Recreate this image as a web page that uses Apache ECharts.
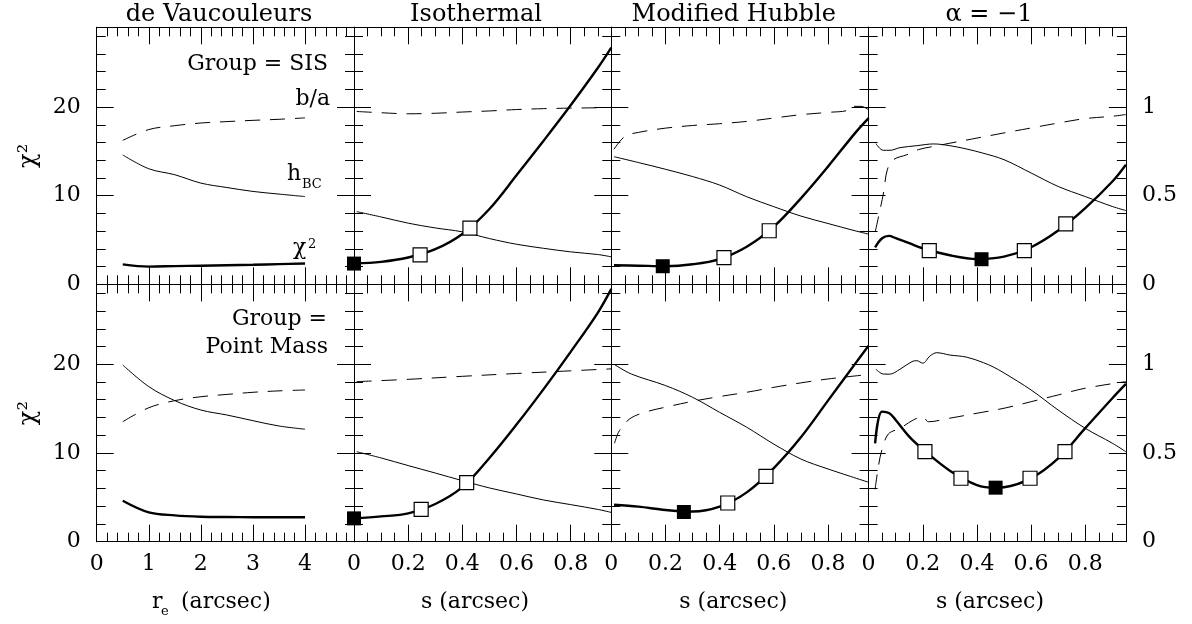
<!DOCTYPE html>
<html><head><meta charset="utf-8">
<script src="https://cdn.jsdelivr.net/npm/echarts@6/dist/echarts.min.js"></script>
<style>html,body{margin:0;padding:0;background:#fff}#c{width:1192px;height:624px}</style>
</head><body><div id="c"></div>
<script>
// ---------------- data ----------------
const columnTitles = ['de Vaucouleurs', 'Isothermal', 'Modified Hubble', 'α = −1'];

// de Vaucouleurs, x = r_e (arcsec)
const deV_r = [0.5, 1, 1.5, 2, 2.5, 3, 3.5, 4];
const deV_SIS_chi2 = [2.25, 2.0, 2.05, 2.1, 2.15, 2.2, 2.28, 2.35];
const deV_SIS_hbc  = [0.73, 0.652, 0.618, 0.571, 0.546, 0.524, 0.509, 0.495];
const deV_SIS_ba   = [0.812, 0.873, 0.895, 0.91, 0.918, 0.925, 0.931, 0.939];
const deV_PM_chi2  = [4.62, 3.31, 2.97, 2.82, 2.78, 2.76, 2.76, 2.76];
const deV_PM_hbc   = [0.996, 0.874, 0.795, 0.742, 0.714, 0.682, 0.652, 0.634];
const deV_PM_ba    = [0.676, 0.755, 0.795, 0.817, 0.83, 0.842, 0.85, 0.855];

// Isothermal, group = SIS
const iso_SIS_s_chi2 = [0, 0.1, 0.2, 0.3, 0.4, 0.5, 0.6, 0.7, 0.8, 0.9, 0.95];
const iso_SIS_chi2   = [2.34, 2.53, 3.02, 3.96, 5.68, 8.5, 12.3, 16.2, 20.2, 24.4, 26.7];
const iso_SIS_s      = [0.01, 0.1, 0.2, 0.3, 0.4, 0.5, 0.6, 0.7, 0.8, 0.9, 0.95];
const iso_SIS_hbc    = [0.41, 0.38, 0.345, 0.318, 0.296, 0.258, 0.226, 0.203, 0.183, 0.168, 0.155];
const iso_SIS_ba     = [0.975, 0.968, 0.962, 0.965, 0.972, 0.978, 0.986, 0.991, 0.994, 0.996, 0.998];
const iso_SIS_open_s = [0.244, 0.428], iso_SIS_open_chi2 = [3.32, 6.34];
const iso_SIS_best_s = [0], iso_SIS_best_chi2 = [2.34];

// Isothermal, group = point mass
const iso_PM_s_chi2 = [0, 0.1, 0.2, 0.3, 0.4, 0.5, 0.6, 0.7, 0.8, 0.9, 0.95];
const iso_PM_chi2   = [2.63, 2.85, 3.2, 4.25, 6.15, 9.44, 13.2, 17.2, 21.4, 25.8, 28.5];
const iso_PM_s_hbc  = [0.01, 0.1, 0.2, 0.3, 0.4, 0.5, 0.6, 0.7, 0.8, 0.9, 0.95];
const iso_PM_hbc    = [0.507, 0.472, 0.429, 0.387, 0.344, 0.303, 0.269, 0.235, 0.209, 0.182, 0.165];
const iso_PM_s_ba   = [0.01, 0.2, 0.4, 0.6, 0.8, 0.95];
const iso_PM_ba     = [0.902, 0.915, 0.932, 0.948, 0.963, 0.974];
const iso_PM_open_s = [0.248, 0.416], iso_PM_open_chi2 = [3.65, 6.65];
const iso_PM_best_s = [0], iso_PM_best_chi2 = [2.63];

// Modified Hubble, group = SIS
const mh_SIS_s_chi2 = [0.01, 0.1, 0.2, 0.3, 0.4, 0.5, 0.6, 0.7, 0.8, 0.9, 0.95];
const mh_SIS_chi2   = [2.15, 2.1, 2.04, 2.26, 2.85, 4.23, 6.5, 9.7, 13.28, 17.06, 18.75];
const mh_SIS_s_hbc  = [0.01, 0.1, 0.2, 0.3, 0.4, 0.5, 0.6, 0.7, 0.8, 0.9, 0.95];
const mh_SIS_hbc    = [0.72, 0.687, 0.649, 0.608, 0.56, 0.494, 0.438, 0.385, 0.343, 0.302, 0.283];
const mh_SIS_s_ba   = [0.01, 0.05, 0.1, 0.2, 0.3, 0.4, 0.5, 0.6, 0.7, 0.8, 0.873, 0.886, 0.922, 0.95];
const mh_SIS_ba     = [0.762, 0.834, 0.857, 0.881, 0.896, 0.906, 0.919, 0.938, 0.957, 0.97, 0.981, 1.004, 1.004, 0.985];
const mh_SIS_open_s = [0.416, 0.583], mh_SIS_open_chi2 = [3.02, 6.04];
const mh_SIS_best_s = [0.19], mh_SIS_best_chi2 = [2.04];

// Modified Hubble, group = point mass
const mh_PM_s_chi2 = [0.01, 0.1, 0.2, 0.3, 0.4, 0.5, 0.6, 0.7, 0.8, 0.9, 0.95];
const mh_PM_chi2   = [4.17, 3.95, 3.57, 3.4, 3.95, 5.56, 8.3, 11.77, 15.9, 20.04, 22.1];
const mh_PM_s_hbc  = [0.01, 0.074, 0.2, 0.3, 0.4, 0.5, 0.6, 0.7, 0.8, 0.95];
const mh_PM_hbc    = [1.0, 0.945, 0.88, 0.814, 0.729, 0.645, 0.55, 0.466, 0.41, 0.335];
const mh_PM_s_ba   = [0.012, 0.03, 0.068, 0.123, 0.2, 0.3, 0.4, 0.5, 0.6, 0.7, 0.8, 0.95];
const mh_PM_ba     = [0.555, 0.626, 0.692, 0.729, 0.758, 0.791, 0.818, 0.842, 0.87, 0.895, 0.917, 0.942];
const mh_PM_open_s = [0.43, 0.571], mh_PM_open_chi2 = [4.36, 7.37];
const mh_PM_best_s = [0.268], mh_PM_best_chi2 = [3.35];

// alpha = -1, group = SIS
const al_SIS_s_chi2 = [0.024, 0.05, 0.075, 0.1, 0.15, 0.2, 0.3, 0.4, 0.5, 0.6, 0.7, 0.8, 0.9, 0.95];
const al_SIS_chi2   = [4.18, 5.2, 5.46, 5.2, 4.64, 4.07, 3.28, 2.86, 3.12, 4.18, 6.06, 8.6, 11.6, 13.5];
const al_SIS_s_hbc  = [0.027, 0.054, 0.079, 0.116, 0.178, 0.24, 0.3, 0.36, 0.42, 0.5, 0.6, 0.7, 0.8, 0.9, 0.95];
const al_SIS_hbc    = [0.794, 0.756, 0.756, 0.771, 0.782, 0.792, 0.782, 0.764, 0.741, 0.703, 0.628, 0.552, 0.495, 0.439, 0.416];
const al_SIS_s_ba   = [0.025, 0.055, 0.069, 0.092, 0.141, 0.184, 0.24, 0.3, 0.4, 0.5, 0.6, 0.7, 0.8, 0.9, 0.95];
const al_SIS_ba     = [0.30, 0.515, 0.646, 0.703, 0.731, 0.76, 0.778, 0.796, 0.825, 0.854, 0.882, 0.91, 0.935, 0.948, 0.958];
const al_SIS_open_s = [0.224, 0.575, 0.728], al_SIS_open_chi2 = [3.8, 3.8, 6.82];
const al_SIS_best_s = [0.417], al_SIS_best_chi2 = [2.83];

// alpha = -1, group = point mass
const al_PM_s_chi2 = [0.024, 0.049, 0.077, 0.1, 0.15, 0.2, 0.3, 0.4, 0.469, 0.5, 0.6, 0.7, 0.8, 0.9, 0.95];
const al_PM_chi2   = [11.09, 14.66, 14.47, 13.72, 11.84, 10.42, 8.0, 6.39, 6.09, 6.13, 7.16, 9.4, 12.8, 16.17, 17.78];
const al_PM_s_hbc  = [0.027, 0.054, 0.077, 0.116, 0.16, 0.178, 0.2, 0.227, 0.252, 0.3, 0.362, 0.424, 0.46, 0.5, 0.6, 0.7, 0.8, 0.9, 0.95];
const al_PM_hbc    = [0.972, 0.945, 0.944, 0.972, 1.015, 1.02, 1.006, 1.047, 1.065, 1.052, 1.04, 1.009, 0.985, 0.951, 0.855, 0.742, 0.639, 0.555, 0.507];
const al_PM_s_ba   = [0.024, 0.036, 0.049, 0.073, 0.116, 0.165, 0.2, 0.221, 0.3, 0.4, 0.5, 0.6, 0.7, 0.8, 0.95];
const al_PM_ba     = [0.295, 0.423, 0.517, 0.607, 0.639, 0.686, 0.705, 0.676, 0.696, 0.724, 0.752, 0.789, 0.827, 0.865, 0.902];
const al_PM_open_s = [0.208, 0.341, 0.596, 0.725], al_PM_open_chi2 = [10.15, 7.15, 7.15, 10.15];
const al_PM_best_s = [0.469], al_PM_best_chi2 = [6.09];

// ---------------- panel table ----------------
const panels = [
  {row:0,col:0, chi2:[deV_r,deV_SIS_chi2], hbc:[deV_r,deV_SIS_hbc], ba:[deV_r,deV_SIS_ba]},
  {row:0,col:1, chi2:[iso_SIS_s_chi2,iso_SIS_chi2], hbc:[iso_SIS_s,iso_SIS_hbc], ba:[iso_SIS_s,iso_SIS_ba], open:[iso_SIS_open_s,iso_SIS_open_chi2], best:[iso_SIS_best_s,iso_SIS_best_chi2]},
  {row:0,col:2, chi2:[mh_SIS_s_chi2,mh_SIS_chi2], hbc:[mh_SIS_s_hbc,mh_SIS_hbc], ba:[mh_SIS_s_ba,mh_SIS_ba], open:[mh_SIS_open_s,mh_SIS_open_chi2], best:[mh_SIS_best_s,mh_SIS_best_chi2]},
  {row:0,col:3, chi2:[al_SIS_s_chi2,al_SIS_chi2], hbc:[al_SIS_s_hbc,al_SIS_hbc], ba:[al_SIS_s_ba,al_SIS_ba], open:[al_SIS_open_s,al_SIS_open_chi2], best:[al_SIS_best_s,al_SIS_best_chi2]},
  {row:1,col:0, chi2:[deV_r,deV_PM_chi2], hbc:[deV_r,deV_PM_hbc], ba:[deV_r,deV_PM_ba]},
  {row:1,col:1, chi2:[iso_PM_s_chi2,iso_PM_chi2], hbc:[iso_PM_s_hbc,iso_PM_hbc], ba:[iso_PM_s_ba,iso_PM_ba], open:[iso_PM_open_s,iso_PM_open_chi2], best:[iso_PM_best_s,iso_PM_best_chi2]},
  {row:1,col:2, chi2:[mh_PM_s_chi2,mh_PM_chi2], hbc:[mh_PM_s_hbc,mh_PM_hbc], ba:[mh_PM_s_ba,mh_PM_ba], open:[mh_PM_open_s,mh_PM_open_chi2], best:[mh_PM_best_s,mh_PM_best_chi2]},
  {row:1,col:3, chi2:[al_PM_s_chi2,al_PM_chi2], hbc:[al_PM_s_hbc,al_PM_hbc], ba:[al_PM_s_ba,al_PM_ba], open:[al_PM_open_s,al_PM_open_chi2], best:[al_PM_best_s,al_PM_best_chi2]}
];

// ---------------- layout / style ----------------
const FONT = '"DejaVu Serif", "Liberation Serif", serif';
const INK = '#000';
const G_LEFT = 96.7, G_W = 257.3;
const G_TOP = [27.3, 284.4], G_H = [257.0, 257.3];
const CHI_MAX = 29, R_MAX = 1.45;
const MAJ = 17, MIN = 9;
const SMOOTH = 0.35;

function fmt(step) {
  return v => { const k = v / step; return Math.abs(k - Math.round(k)) < 1e-6 ? String(+v.toFixed(2)) : ''; };
}
const zip = (xs, ys) => xs.map((x, i) => [x, ys[i]]);

const grids = [], xAxes = [], yAxes = [], series = [];
panels.forEach((p, g) => {
  const bottomRow = p.row === 1, firstCol = p.col === 0, lastCol = p.col === 3;
  grids.push({left: G_LEFT + p.col * G_W, top: G_TOP[p.row], width: G_W, height: G_H[p.row]});
  const xr = firstCol ? {max: 4.94, major: 1, minor: 0.2} : {max: 0.95, major: 0.2, minor: 0.05};
  const bx = {type: 'value', gridIndex: g, min: 0, max: xr.max, splitLine: {show: false},
    axisLine: {show: true, onZero: false, lineStyle: {color: INK, width: 1}}};
  const tick = len => ({show: true, inside: true, length: len, lineStyle: {color: INK, width: 1}});
  xAxes.push(Object.assign({}, bx, {position: 'bottom', interval: xr.major, axisTick: tick(MAJ),
    axisLabel: {show: bottomRow, margin: 12, color: INK, fontFamily: FONT, fontSize: 22, formatter: fmt(xr.major)}}));
  xAxes.push(Object.assign({}, bx, {position: 'bottom', interval: xr.minor, axisTick: tick(MIN), axisLabel: {show: false}}));
  xAxes.push(Object.assign({}, bx, {position: 'top', interval: xr.major, axisTick: tick(MAJ), axisLabel: {show: false}}));
  xAxes.push(Object.assign({}, bx, {position: 'top', interval: xr.minor, axisTick: tick(MIN), axisLabel: {show: false}}));

  const by = {type: 'value', gridIndex: g, min: 0, max: CHI_MAX, splitLine: {show: false},
    axisLine: {show: true, onZero: false, lineStyle: {color: INK, width: 1}}};
  const left = Object.assign({}, by, {position: 'left', interval: 10, axisTick: tick(MAJ),
    axisLabel: {show: firstCol, margin: 16, color: INK, fontFamily: FONT, fontSize: 22, formatter: fmt(10)}});
  if (firstCol) Object.assign(left, {name: 'χ²', nameLocation: 'middle', nameGap: 56, nameRotate: 90,
    nameTextStyle: {color: INK, fontFamily: FONT, fontSize: 24}});
  yAxes.push(left);
  yAxes.push(Object.assign({}, by, {position: 'left', interval: 2, axisTick: tick(MIN), axisLabel: {show: false}}));
  yAxes.push(Object.assign({}, by, {position: 'right', interval: 10, axisTick: tick(MAJ), axisLabel: {show: false}}));
  yAxes.push(Object.assign({}, by, {position: 'right', interval: 2, axisTick: tick(MIN), axisLabel: {show: false}}));
  yAxes.push({type: 'value', gridIndex: g, position: 'right', min: 0, max: R_MAX, interval: 0.5,
    splitLine: {show: false}, axisLine: {show: false, onZero: false}, axisTick: {show: false},
    axisLabel: {show: lastCol, margin: 16, color: INK, fontFamily: FONT, fontSize: 22, formatter: fmt(0.5)}});

  const xi = 4 * g, yc = 5 * g, yr = 5 * g + 4;
  series.push({type: 'line', xAxisIndex: xi, yAxisIndex: yr, data: zip(p.ba[0], p.ba[1]), showSymbol: false,
    smooth: SMOOTH, lineStyle: {color: INK, width: 1, type: [15, 10]}, z: 2});
  series.push({type: 'line', xAxisIndex: xi, yAxisIndex: yr, data: zip(p.hbc[0], p.hbc[1]), showSymbol: false,
    smooth: SMOOTH, lineStyle: {color: INK, width: 1}, z: 2});
  series.push({type: 'line', xAxisIndex: xi, yAxisIndex: yc, data: zip(p.chi2[0], p.chi2[1]), showSymbol: false,
    smooth: SMOOTH, lineStyle: {color: INK, width: 2.4}, z: 3});
  if (p.open) series.push({type: 'scatter', xAxisIndex: xi, yAxisIndex: yc, data: zip(p.open[0], p.open[1]),
    symbol: 'rect', symbolSize: 14, clip: false,
    itemStyle: {color: '#fff', borderColor: INK, borderWidth: 1.2, opacity: 1}, z: 5});
  if (p.best) series.push({type: 'scatter', xAxisIndex: xi, yAxisIndex: yc, data: zip(p.best[0], p.best[1]),
    symbol: 'rect', symbolSize: 14, clip: false, itemStyle: {color: INK, opacity: 1}, z: 6});
});

function txt(text, x, y, size, align) {
  return {type: 'text', x: x, y: y, z: 100, style: {text: text, fill: INK, font: size + 'px ' + FONT,
    align: align || 'center', textAlign: align || 'center', verticalAlign: 'middle', textVerticalAlign: 'middle'}};
}
const titleX = [219, 476, 733.7, 989];
const graphics = columnTitles.map((t, i) => txt(t, titleX[i], 15, 24));
graphics.push(
  txt('Group = SIS', 328, 64.5, 22, 'right'),
  txt('b/a', 330, 99.5, 22, 'right'),
  txt('h', 287, 174, 22, 'left'),
  txt('BC', 302, 185, 13, 'left'),
  txt('χ', 293, 248, 22, 'left'),
  txt('2', 308, 244.5, 13, 'left'),
  txt('Group =', 327, 319.5, 22, 'right'),
  txt('Point Mass', 328, 347.5, 22, 'right'),
  txt('r', 152, 602.5, 22, 'left'),
  txt('e', 161, 611.5, 13, 'left'),
  txt('(arcsec)', 181, 602.5, 22, 'left'),
  txt('s (arcsec)', 475, 602.5, 22, 'center'),
  txt('s (arcsec)', 733.3, 602.5, 22, 'center'),
  txt('s (arcsec)', 990, 602.5, 22, 'center')
);

const chart = echarts.init(document.getElementById('c'), null, {renderer: 'canvas'});
chart.setOption({
  animation: false,
  backgroundColor: '#fff',
  grid: grids,
  xAxis: xAxes,
  yAxis: yAxes,
  series: series,
  graphic: graphics
});
</script>
</body></html>
